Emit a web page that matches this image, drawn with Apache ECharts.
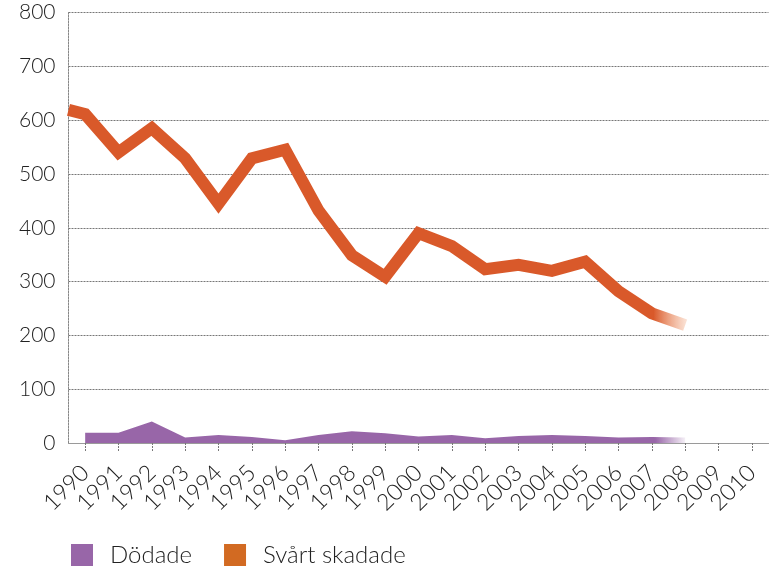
<!DOCTYPE html>
<html>
<head>
<meta charset="utf-8">
<script src="https://cdn.jsdelivr.net/npm/echarts@6/dist/echarts.min.js"></script>
<style>html,body{margin:0;padding:0;background:#fff}#c{width:775px;height:573px}</style>
</head>
<body>
<div id="c"></div>
<script>
var years = ['1990','1991','1992','1993','1994','1995','1996','1997','1998','1999','2000','2001','2002','2003','2004','2005','2006','2007','2008','2009','2010'];
var yTicks = [0,100,200,300,400,500,600,700,800];
// line starts at the left edge of the plot (half a year before 1990)
var svartX = [1989.5,1990,1991,1992,1993,1994,1995,1996,1997,1998,1999,2000,2001,2002,2003,2004,2005,2006,2007,2008];
var svartSkadade = [619,611,540,585,529,445,529,545,432,349,309,390,366,323,331,320,337,282,241,219];
var dodadeX = [1990,1991,1992,1993,1994,1995,1996,1997,1998,1999,2000,2001,2002,2003,2004,2005,2006,2007,2008];
var dodade = [19,19,40,10,15,11,5,15,22,18,12,15,9,13,15,13,10,11,10];

function pairs(xs, ys){ return xs.map(function(x,i){ return [x, ys[i]]; }); }

var font = 'Lato, "Open Sans", sans-serif';
var chart = echarts.init(document.getElementById('c'));
chart.setOption({
  animation: false,
  grid: {left: 68.5, right: 6.5, top: 12.5, bottom: 130, containLabel: false},
  legend: {
    left: 66, top: 538,
    itemWidth: 22, itemHeight: 22, itemGap: 32,
    textStyle: {fontSize: 24, fontWeight: 300, color: '#222', fontFamily: font, padding: [0,0,0,12]},
    data: [
      {name: 'Dödade', icon: 'rect', itemStyle: {color: '#9866a8'}},
      {name: 'Svårt skadade', icon: 'rect', itemStyle: {color: '#d26a22'}}
    ]
  },
  xAxis: [
    {
      type: 'category', data: years, boundaryGap: true,
      axisLine: {show: true, lineStyle: {color: '#9a9a9a', width: 1}},
      axisTick: {show: true, alignWithLabel: true, length: 9, lineStyle: {color: '#777', type: [2,1]}},
      axisLabel: {rotate: 45, fontSize: 23, fontWeight: 300, color: '#222', fontFamily: font, margin: 26, interval: 0},
      splitLine: {show: false}
    },
    {
      type: 'value', min: 1989.5, max: 2010.5, show: false
    }
  ],
  yAxis: {
    type: 'value', min: yTicks[0], max: yTicks[yTicks.length-1], interval: 100,
    axisLine: {show: true, lineStyle: {color: '#888', type: [2,1]}},
    axisTick: {show: false},
    axisLabel: {fontSize: 21, fontWeight: 300, color: '#222', fontFamily: font, margin: 13},
    splitLine: {show: true, lineStyle: {color: '#777', type: [2,1], width: 1}}
  },
  series: [
    {
      name: 'Dödade', type: 'line', xAxisIndex: 1,
      data: pairs(dodadeX, dodade),
      symbol: 'none', z: 2,
      lineStyle: {width: 0},
      itemStyle: {color: '#9866a8'},
      areaStyle: {
        opacity: 1,
        color: new echarts.graphic.LinearGradient(0,0,1,0,[
          {offset: 0, color: 'rgba(152,102,168,1)'},
          {offset: 0.95, color: 'rgba(152,102,168,1)'},
          {offset: 1, color: 'rgba(152,102,168,0.1)'}
        ])
      }
    },
    {
      name: 'Svårt skadade', type: 'line', xAxisIndex: 1,
      data: pairs(svartX, svartSkadade),
      symbol: 'none', z: 3,
      itemStyle: {color: '#d26a22'},
      lineStyle: {
        width: 12, join: 'miter', cap: 'butt',
        color: new echarts.graphic.LinearGradient(0,0,1,0,[
          {offset: 0, color: 'rgba(217,89,42,1)'},
          {offset: 0.94, color: 'rgba(217,89,42,1)'},
          {offset: 1, color: 'rgba(240,150,100,0.15)'}
        ])
      }
    }
  ]
});
</script>
</body>
</html>
